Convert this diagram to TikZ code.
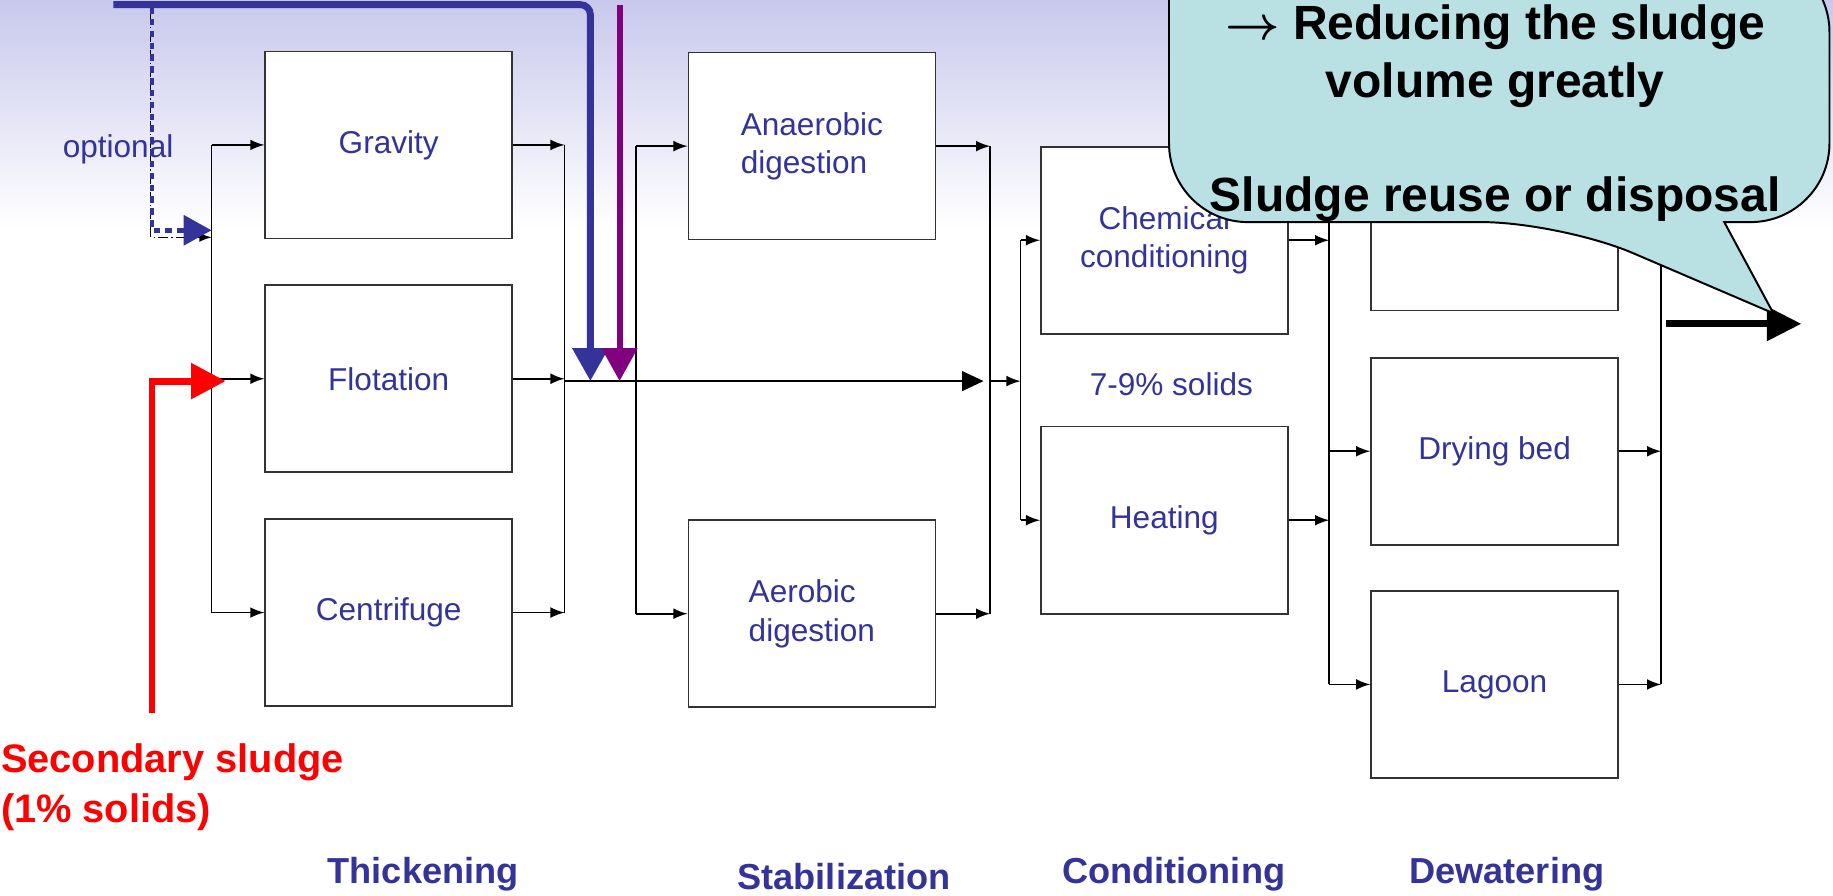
\documentclass[tikz,border=0pt]{standalone}
\usepackage{amsmath}
\usepackage{bm}
\usepackage{fontspec}
\setmainfont{Liberation Sans}
\usepackage{xcolor}
\usepackage{tikz}
\usetikzlibrary{arrows.meta}
\definecolor{procblue}{RGB}{51,51,153}
\definecolor{feedpurple}{RGB}{128,0,128}
\definecolor{calloutfill}{RGB}{185,224,226}
\definecolor{bgtop}{RGB}{200,200,236}
\tikzset{%
  stagebox/.style={rectangle, draw=black!80, fill=white, line width=0.5pt, minimum width=2.64cm, minimum height=2cm, align=center, text=procblue, font=\fontsize{9.6}{11.7}\selectfont},
  boxtext/.style={text=procblue, font=\fontsize{9.6}{11.7}\selectfont},
  stagelabel/.style={text=procblue, font=\fontsize{11}{13}\selectfont\bfseries},
  seclabel/.style={text=red, align=left, font=\fontsize{12.1}{15.2}\selectfont\bfseries},
  calloutText/.style={align=center, font=\fontsize{14.6}{17.4}\selectfont\bfseries},
  % ---
  % connectors
  % ---
  flow/.style={-latex, line width=0.5pt},
  bypass/.style={-{Triangle[length=6.5pt,width=6pt]}, line width=0.5pt},
  primfeed/.style={draw=procblue, line width=2.1pt, -{Triangle[length=10pt,width=10.5pt]}},
  purpfeed/.style={draw=feedpurple, line width=1.8pt, -{Triangle[length=10pt,width=10.5pt]}},
  optfeed/.style={draw=procblue, line width=1.4pt, dash pattern=on 2pt off 1.6pt, -{Triangle[length=8.5pt,width=9pt]}},
  secfeed/.style={draw=red, line width=2.1pt, -{Triangle[length=10.5pt,width=10.5pt]}},
  outflow/.style={draw=black, line width=2.1pt, -{Triangle[length=10.5pt,width=10pt]}}}

\begin{document}
\begin{tikzpicture}[x=0.0125cm, y=-0.0125cm]
        \useasboundingbox (0,0) rectangle (1568,766);
        \clip (0,0) rectangle (1568,766);
        \shade[top color=bgtop, bottom color=white] (0,0) rectangle (1568,195);

        %Nodes
        \node[stagebox] (grav) at (332.5,124) {Gravity};
        \node[stagebox] (flot) at (332.5,324) {Flotation};
        \node[stagebox] (cent) at (332.5,524) {Centrifuge};

        \node[stagebox, align=left] (anaer) at (694.5,125) {Anaerobic\\digestion};
        \node[stagebox, align=left] (aer) at (694.5,525) {Aerobic\\digestion};

        \node[stagebox] (chem) at (996,205.5) {Chemical\\conditioning};
        \node[stagebox] (heat) at (996,445) {Heating};
        \node[boxtext] (solids) at (1002,329) {7-9\% solids};

        \node[stagebox] (filt) at (1278.5,185.5) {};
        \node[boxtext] (filt_t) at (1279,178) {Filter press};
        \node[stagebox] (dry) at (1278.5,386) {Drying bed};
        \node[stagebox] (lag) at (1278.5,585.5) {Lagoon};

        \node[boxtext] (opt) at (101,128) {optional};
        \node[seclabel, anchor=west] (sec) at (-9,673) {Secondary sludge\\(1\% solids)};

        \node[stagelabel] (thk_t) at (362,748) {Thickening};
        \node[stagelabel] (stb_t) at (722,750) {Stabilization};
        \node[stagelabel] (cnd_t) at (1004,748) {Conditioning};
        \node[stagelabel] (dw_t) at (1289,748) {Dewatering};

        %Junctions
        \coordinate (thkIn) at (181,124);
        \coordinate (thkInB) at (181,524);
        \coordinate (thkOut) at (483,124);
        \coordinate (thkOutB) at (483,524);
        \coordinate (stbIn) at (544,125);
        \coordinate (stbInB) at (544,525);
        \coordinate (stbOut) at (847,125);
        \coordinate (stbOutB) at (847,525);
        \coordinate (cndIn) at (873,205.5);
        \coordinate (cndInB) at (873,445);
        \coordinate (dwIn) at (1137,185.5);
        \coordinate (dwInB) at (1137,585.5);
        \coordinate (dwOut) at (1421,185.5);
        \coordinate (dwOutB) at (1421,585.5);
        \coordinate (mainJoin) at (847,326);

        %Lines
        \draw[line width=0.5pt] (thkIn) -- (thkInB);
        \draw[flow] (grav.west -| thkIn) -- (grav.west);
        \draw[flow] (flot.west -| thkIn) -- (flot.west);
        \draw[flow] (cent.west -| thkIn) -- (cent.west);
        \draw[flow] (grav.east) -- (grav.east -| thkOut);
        \draw[flow] (flot.east) -- (flot.east -| thkOut);
        \draw[flow] (cent.east) -- (cent.east -| thkOut);
        \draw[line width=0.5pt] (thkOut) -- (thkOutB);

        \draw[line width=0.5pt] (stbIn) -- (stbInB);
        \draw[flow] (anaer.west -| stbIn) -- (anaer.west);
        \draw[flow] (aer.west -| stbIn) -- (aer.west);
        \draw[flow] (anaer.east) -- (anaer.east -| stbOut);
        \draw[flow] (aer.east) -- (aer.east -| stbOut);
        \draw[line width=0.5pt] (stbOut) -- (stbOutB);
        \draw[bypass, shorten >=2pt] (mainJoin -| thkOut) -- (mainJoin);

        \draw[flow] (mainJoin) -- (mainJoin -| cndIn);
        \draw[line width=0.5pt] (cndIn) -- (cndInB);
        \draw[flow] (cndIn) -- (chem.west);
        \draw[flow] (cndInB) -- (heat.west);
        \draw[flow] (chem.east) -- (chem.east -| dwIn);
        \draw[flow] (heat.east) -- (heat.east -| dwIn);

        \draw[line width=0.5pt] (dwIn) -- (dwInB);
        \draw[flow] (dwIn) -- (filt.west);
        \draw[flow] (dry.west -| dwIn) -- (dry.west);
        \draw[flow] (dwInB) -- (lag.west);
        \draw[flow] (filt.east) -- (dwOut);
        \draw[flow] (dry.east) -- (dry.east -| dwOut);
        \draw[flow] (lag.east) -- (dwOutB);
        \draw[line width=0.5pt] (dwOut) -- (dwOutB);

        \coordinate (outStart) at (1425,277);
        \coordinate (outEnd) at (1541,277);
        \draw[outflow] (outStart) -- (outEnd);

        % feeds
        \coordinate (blueStart) at (97,4);
        \coordinate (blueEnd) at (505,326);
        \coordinate (purpStart) at (530,4);
        \coordinate (optStart) at (130,6);
        \coordinate (optEnd) at (181,197);
        \coordinate (optThin) at (129,12);
        \coordinate (optThinEnd) at (181,203);
        \coordinate (redStart) at (130,610);
        \coordinate (redEnd) at (193,326);
        \draw[densely dashdotted, line width=0.3pt, -latex] (optThin) |- (optThinEnd);
        \draw[optfeed] (optStart) |- (optEnd);
        \draw[primfeed, rounded corners=3pt] (blueStart) -| (blueEnd);
        \draw[purpfeed] (purpStart) -- (purpStart |- blueEnd);
        \draw[secfeed] (redStart) |- (redEnd);

        % callout
        \filldraw[fill=calloutfill, draw=black, line width=0.6pt]
          (1000,-40) [rounded corners=24pt] -- (1000,190) -- (1335,190) [sharp corners]
          -- (1517,268) -- (1475,190) [rounded corners=24pt] -- (1565,190) -- (1565,-40) [sharp corners] -- cycle;
        \node[calloutText] (note) at (1279,97) {$\bm{\rightarrow}$ Reducing the sludge\\volume greatly\\\mbox{}\\Sludge reuse or disposal};
\end{tikzpicture}
\end{document}
